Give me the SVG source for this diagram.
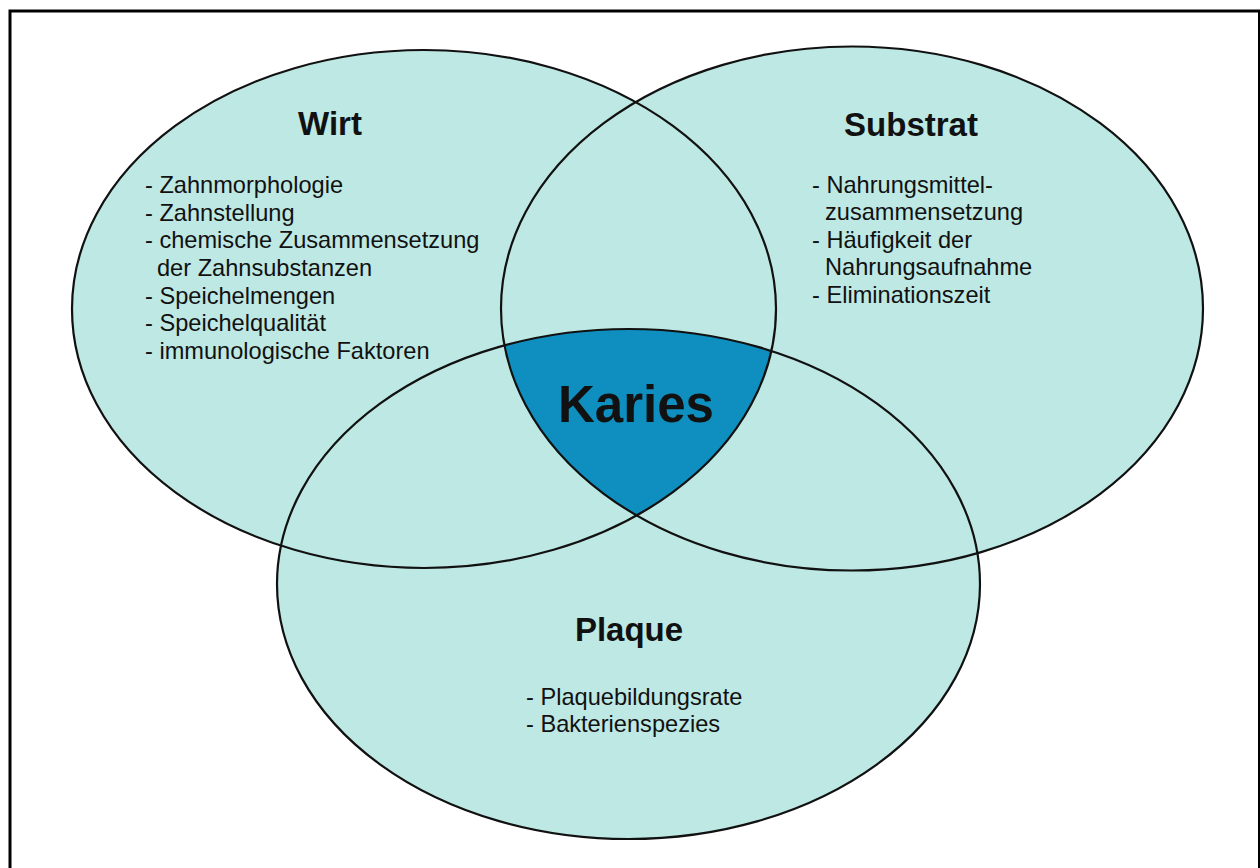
<svg xmlns="http://www.w3.org/2000/svg" width="1260" height="868" viewBox="0 0 1260 868">
<style>
.fill{fill:#bee8e3;stroke:none}
.edge{fill:none;stroke:#111;stroke-width:2.2}
.title{font-family:"Liberation Sans",Arial,sans-serif;font-weight:bold;font-size:33px;fill:#111;text-anchor:middle}
.body{font-family:"Liberation Sans",Arial,sans-serif;font-size:23.6px;fill:#111}
</style>
<defs>
<clipPath id="cW"><ellipse cx="424" cy="309" rx="352" ry="259"/></clipPath>
<clipPath id="cS"><ellipse cx="852" cy="308.5" rx="351" ry="262"/></clipPath>
</defs>
<rect x="0" y="0" width="1260" height="868" fill="#ffffff"/>
<rect x="10" y="11" width="1249.5" height="900" fill="none" stroke="#000" stroke-width="3"/>
<g id="fills">
<ellipse class="fill" cx="424" cy="309" rx="352" ry="259"/>
<ellipse class="fill" cx="852" cy="308.5" rx="351" ry="262"/>
<ellipse class="fill" cx="628.5" cy="584" rx="351.5" ry="255"/>
</g>
<g id="karies-region" clip-path="url(#cW)">
<ellipse cx="628.5" cy="584" rx="351.5" ry="255" fill="#0f8fbf" clip-path="url(#cS)"/>
</g>
<g id="connectors">
<ellipse class="edge" cx="424" cy="309" rx="352" ry="259"/>
<ellipse class="edge" cx="852" cy="308.5" rx="351" ry="262"/>
<ellipse class="edge" cx="628.5" cy="584" rx="351.5" ry="255"/>
</g>
<g id="wirt">
<text class="title" x="330" y="135">Wirt</text>
<text class="body" x="145" y="193">- Zahnmorphologie</text>
<text class="body" x="145" y="221">- Zahnstellung</text>
<text class="body" x="145" y="248">- chemische Zusammensetzung</text>
<text class="body" x="157" y="276">der Zahnsubstanzen</text>
<text class="body" x="145" y="304">- Speichelmengen</text>
<text class="body" x="145" y="331">- Speichelqualität</text>
<text class="body" x="145" y="359">- immunologische Faktoren</text>
</g>
<g id="substrat">
<text class="title" x="911" y="136">Substrat</text>
<text class="body" x="812" y="193">- Nahrungsmittel-</text>
<text class="body" x="825" y="220">zusammensetzung</text>
<text class="body" x="812" y="248">- Häufigkeit der</text>
<text class="body" x="825" y="275">Nahrungsaufnahme</text>
<text class="body" x="812" y="303">- Eliminationszeit</text>
</g>
<g id="plaque">
<text class="title" x="629" y="641">Plaque</text>
<text class="body" x="526" y="705">- Plaquebildungsrate</text>
<text class="body" x="526" y="732">- Bakterienspezies</text>
</g>
<g id="karies">
<text class="title" x="636" y="422" style="font-size:51px">Karies</text>
</g>
</svg>
